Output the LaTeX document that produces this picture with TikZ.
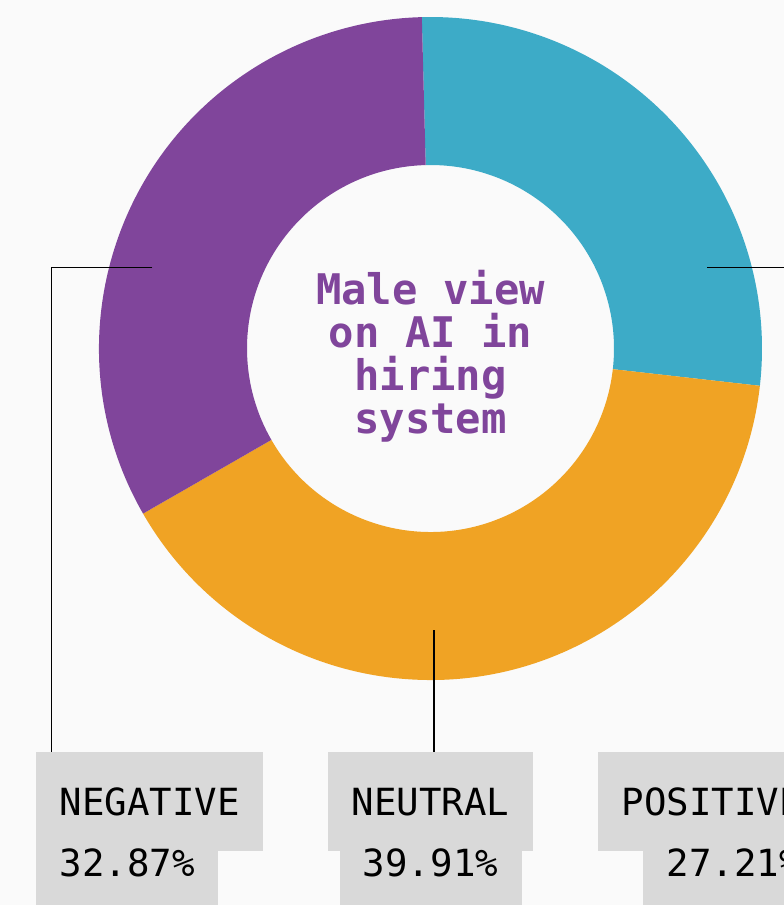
\documentclass[tikz,border=0pt]{standalone}
\usepackage{fontspec}
\newfontfamily\chartfont{DejaVu Sans Mono}
\usetikzlibrary{positioning}
\definecolor{bgpaper}{HTML}{FAFAFA}
\definecolor{negpurple}{HTML}{80459B}
\definecolor{posblue}{HTML}{3DABC7}
\definecolor{neuorange}{HTML}{F0A324}
\definecolor{boxgray}{HTML}{D9D9D9}
\tikzset{
  catbox/.style={fill=boxgray, font=\chartfont\fontsize{37.4pt}{40pt}\selectfont,
    inner xsep=23.45pt, inner ysep=0pt, text height=27.3pt, text depth=0pt, minimum height=99pt},
  pctbox/.style={fill=boxgray, font=\chartfont\fontsize{37.4pt}{40pt}\selectfont,
    inner xsep=23.45pt, inner ysep=0pt, text height=26pt, text depth=60pt},
  leader/.style={draw=black, line width=1.2pt},
  charttitle/.style={align=center, text=negpurple, inner sep=0pt,
    font=\chartfont\bfseries\fontsize{42.2pt}{43pt}\selectfont}
}
\begin{document}
\begin{tikzpicture}[x=1pt, y=1pt]
\useasboundingbox (0,0) rectangle (784,-905);
\fill[bgpaper] (0,0) rectangle (784,-905);
\clip (0,0) rectangle (784,-905);

% donut
\begin{scope}[shift={(430.5,-348.5)}]
  \fill[posblue] (91.5:331.5) arc[start angle=91.5, end angle=-6.46, radius=331.5pt]
    -- (-6.46:183.5) arc[start angle=-6.46, end angle=91.5, radius=183.5pt] -- cycle;
  \fill[neuorange] (-6.46:331.5) arc[start angle=-6.46, end angle=-150.13, radius=331.5pt]
    -- (-150.13:183.5) arc[start angle=-150.13, end angle=-6.46, radius=183.5pt] -- cycle;
  \fill[negpurple] (-150.13:331.5) arc[start angle=-150.13, end angle=-268.5, radius=331.5pt]
    -- (-268.5:183.5) arc[start angle=-268.5, end angle=-150.13, radius=183.5pt] -- cycle;
\end{scope}
\node[charttitle] (title) at (430.5,-356.5) {Male view\\on AI in\\hiring\\system};

% labels
\node[catbox, anchor=north west] (neg) at (36,-752) {NEGATIVE};
\node[pctbox, anchor=north west] (negpct) at ([yshift=1pt]neg.south west) {32.87\%};
\node[catbox, anchor=north] (neu) at (430.5,-752) {NEUTRAL};
\node[pctbox, anchor=north] (neupct) at ([yshift=1pt]neu.south) {39.91\%};
\node[catbox, anchor=north west] (pos) at (598,-752) {POSITIVE};
\node[pctbox, anchor=north east] (pospct) at ([yshift=1pt]pos.south east) {27.21\%};

% leaders
\coordinate (negtip) at (152.3,-267.7);
\coordinate (neutip) at (434,-630);
\coordinate (postip) at (707,-267.5);
\draw[leader] (negtip) -| ([xshift=15.7pt]neg.north west);
\draw[leader] (neutip) -- (neutip |- neu.north);
\draw[leader] (postip) -| ([xshift=-15.7pt]pos.north east);
\end{tikzpicture}
\end{document}
